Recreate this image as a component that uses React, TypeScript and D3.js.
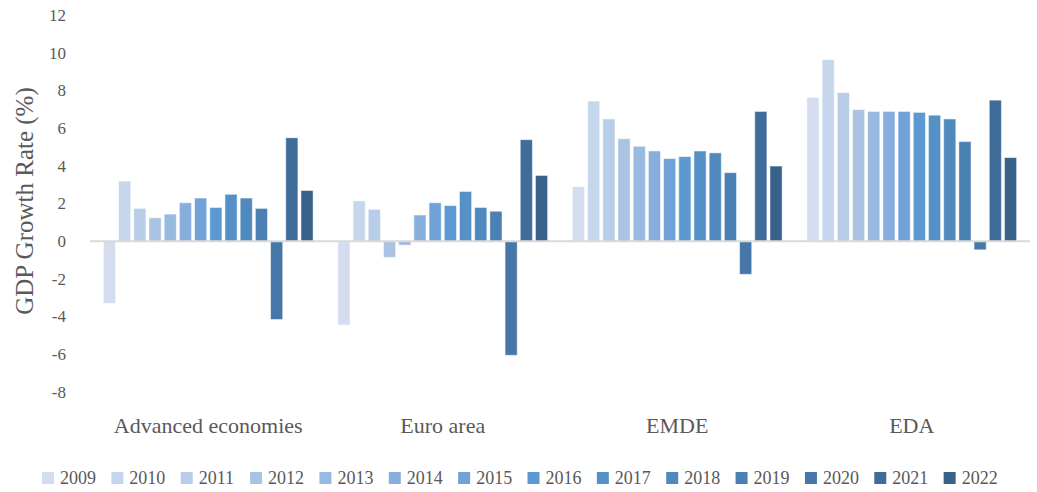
import React from "react";
import * as d3 from "d3";

const categories = ["Advanced economies", "Euro area", "EMDE", "EDA"];
const years = ["2009", "2010", "2011", "2012", "2013", "2014", "2015", "2016", "2017", "2018", "2019", "2020", "2021", "2022"];
const advanced = [-3.3, 3.2, 1.75, 1.25, 1.45, 2.05, 2.3, 1.8, 2.5, 2.3, 1.75, -4.15, 5.5, 2.7];
const euroArea = [-4.45, 2.15, 1.7, -0.85, -0.2, 1.4, 2.05, 1.9, 2.65, 1.8, 1.6, -6.05, 5.4, 3.5];
const emde = [2.9, 7.45, 6.5, 5.45, 5.05, 4.8, 4.4, 4.5, 4.8, 4.7, 3.65, -1.75, 6.9, 4.0];
const eda = [7.65, 9.65, 7.9, 7.0, 6.9, 6.9, 6.9, 6.85, 6.7, 6.5, 5.3, -0.45, 7.5, 4.45];
const yTicks = [-8, -6, -4, -2, 0, 2, 4, 6, 8, 10, 12];
const colors = ["#d3ddef", "#c6d6ec", "#b8cde8", "#a9c3e3", "#98b9e0", "#87aedc", "#70a2d7", "#5c98d1", "#5590c7", "#4f89be", "#4a80b4", "#4677a8", "#3f6c98", "#38628a"];

const seriesByCategory = [advanced, euroArea, emde, eda];

export default function App() {
  const width = 1037;
  const height = 492;
  const font = "'Liberation Serif', 'Times New Roman', serif";
  const textColor = "#595959";

  const y = d3.scaleLinear().domain([-8, 12]).range([392, 15.4]);
  const x0 = d3.scaleBand<string>().domain(categories).range([91, 1029]).paddingInner(0).paddingOuter(0);
  const x1 = d3.scaleBand<string>().domain(years).range([0, x0.bandwidth()]).paddingInner(0.2).paddingOuter(0.815);
  const legendX = d3.scaleBand<string>().domain(years).range([42, 1013]);
  const color = d3.scaleOrdinal<string, string>().domain(years).range(colors);

  return (
    <svg width={width} height={height} style={{ position: "absolute", left: 0, top: 0, background: "#fff" }}>
      {/* y tick labels */}
      {yTicks.map((t) => (
        <text key={t} x={66} y={y(t)} textAnchor="end" dominantBaseline="central" fontFamily={font} fontSize={17} fill={textColor}>
          {t}
        </text>
      ))}
      {/* y axis title */}
      <text
        transform={`translate(24, ${201}) rotate(-90)`}
        textAnchor="middle"
        dominantBaseline="central"
        fontFamily={font}
        fontSize={25}
        fill={textColor}
      >
        GDP Growth Rate (%)
      </text>
      {/* bars */}
      {categories.map((c, ci) => (
        <g key={c} transform={`translate(${x0(c)},0)`}>
          {years.map((yr, yi) => {
            const v = seriesByCategory[ci][yi];
            const y0 = y(0);
            const yv = y(v);
            return (
              <rect
                key={yr}
                x={x1(yr)}
                y={Math.min(y0, yv)}
                width={x1.bandwidth()}
                height={Math.abs(yv - y0)}
                fill={color(yr)}
                stroke="#ffffff"
                strokeOpacity={0.5}
                strokeWidth={1}
              />
            );
          })}
        </g>
      ))}
      {/* zero line */}
      <line x1={90} x2={1030} y1={y(0)} y2={y(0)} stroke="#d9d9d9" strokeWidth={2} />
      {/* category labels */}
      {categories.map((c) => (
        <text key={c} x={(x0(c) as number) + x0.bandwidth() / 2} y={433} textAnchor="middle" fontFamily={font} fontSize={22} fill={textColor}>
          {c}
        </text>
      ))}
      {/* legend */}
      {years.map((yr) => (
        <g key={yr} transform={`translate(${legendX(yr)},472)`}>
          <rect x={0} y={0} width={12} height={12} fill={color(yr)} />
          <text x={18} y={12} fontFamily={font} fontSize={18} fill={textColor}>
            {yr}
          </text>
        </g>
      ))}
    </svg>
  );
}
